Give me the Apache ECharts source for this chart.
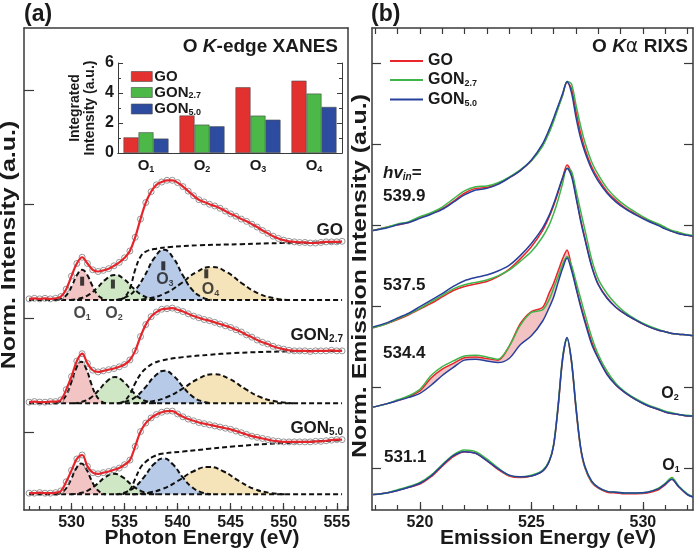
<!DOCTYPE html>
<html>
<head>
<meta charset="utf-8">
<script src="https://cdn.jsdelivr.net/npm/echarts@6/dist/echarts.min.js"></script>
<style>html,body{margin:0;padding:0;background:#fff;}</style>
</head>
<body>
<div id="main" style="width:697px;height:550px;"></div>
<script type="text/javascript">
var F = '"Liberation Sans", Arial, sans-serif';
var INK = '#1a1a1a';
var AX = '#3a3a3a';

// ---------- (a) O K-edge XANES ----------
var xanesE = [526, 526.5, 527, 527.5, 528, 528.5, 529, 529.5, 530, 530.5, 531, 531.5, 532, 532.5, 533, 533.5, 534, 534.5, 535, 535.5,
  536, 536.5, 537, 537.5, 538, 538.5, 539, 539.5, 540, 540.5, 541, 541.5, 542, 542.5, 543, 543.5, 544, 544.5, 545, 545.5,
  546, 546.5, 547, 547.5, 548, 548.5, 549, 549.5, 550, 550.5, 551, 551.5, 552, 552.5, 553, 553.5, 554, 554.5, 555, 555.5];
var xanesGO = [0.02, 0.03, 0.02, 0.03, 0.02, 0.03, 0.06, 0.19, 0.42, 0.64, 0.75, 0.64, 0.53, 0.50, 0.52, 0.55, 0.60, 0.66, 0.74, 0.86,
  1.10, 1.42, 1.71, 1.90, 2.02, 2.07, 2.10, 2.10, 2.06, 1.99, 1.91, 1.83, 1.76, 1.72, 1.68, 1.65, 1.61, 1.56, 1.51, 1.47,
  1.42, 1.38, 1.33, 1.28, 1.22, 1.17, 1.12, 1.08, 1.05, 1.03, 1.02, 1.01, 1.01, 1.00, 1.00, 1.01, 1.02, 1.02, 1.02, 1.03];
var xanesGON27 = [0.02, 0.03, 0.02, 0.02, 0.03, 0.03, 0.06, 0.24, 0.47, 0.74, 0.87, 0.70, 0.58, 0.55, 0.57, 0.59, 0.61, 0.64, 0.68, 0.76,
  0.92, 1.17, 1.38, 1.52, 1.60, 1.65, 1.66, 1.67, 1.64, 1.61, 1.57, 1.53, 1.50, 1.47, 1.45, 1.42, 1.39, 1.36, 1.33, 1.29,
  1.25, 1.20, 1.16, 1.11, 1.07, 1.04, 1.00, 0.97, 0.95, 0.93, 0.92, 0.92, 0.92, 0.91, 0.92, 0.92, 0.92, 0.93, 0.92, 0.92];
var xanesGON50 = [0.02, 0.02, 0.03, 0.02, 0.02, 0.03, 0.06, 0.22, 0.42, 0.62, 0.69, 0.49, 0.38, 0.36, 0.38, 0.40, 0.43, 0.46, 0.52, 0.60,
  0.84, 1.10, 1.25, 1.34, 1.40, 1.44, 1.46, 1.46, 1.41, 1.36, 1.32, 1.29, 1.26, 1.24, 1.22, 1.20, 1.18, 1.16, 1.14, 1.11,
  1.08, 1.05, 1.02, 1.00, 0.98, 0.96, 0.94, 0.93, 0.92, 0.92, 0.92, 0.92, 0.92, 0.92, 0.93, 0.93, 0.94, 0.95, 0.96, 0.96];
// vertical offsets of the stacked spectra
var xanesOffsets = [3.684, 1.872, 0.275];

// edge-step (dashed) curves
var stepGO = [[534.5, 0], [535, 0.05], [535.5, 0.2], [536, 0.53], [536.5, 0.76], [537, 0.85], [538, 0.9], [539.3, 0.93], [542, 0.96], [546, 0.98], [550, 1.0], [555.5, 1.01]];
var stepGON27 = [[534.5, 0], [535, 0.04], [535.5, 0.16], [536, 0.35], [536.5, 0.51], [537, 0.61], [537.7, 0.70], [538.5, 0.75], [540.5, 0.81], [543, 0.85], [545.2, 0.88], [550, 0.91], [555.5, 0.92]];
var stepGON50 = [[534.8, 0], [535.5, 0.08], [536, 0.27], [536.5, 0.47], [537, 0.57], [537.7, 0.66], [538.5, 0.71], [540.5, 0.75], [543, 0.8], [545.2, 0.84], [550, 0.9], [555.5, 0.95]];

// fitted peaks O1..O4 (energy, height above baseline)
var gaussGO = [
  [[528.66, 0], [529.13, 0.03], [529.6, 0.105], [530.06, 0.258], [530.53, 0.443], [531.0, 0.53], [531.47, 0.443], [531.94, 0.258], [532.4, 0.105], [532.87, 0.03], [533.34, 0]],
  [[529.9, 0], [530.74, 0.025], [531.58, 0.087], [532.42, 0.214], [533.26, 0.367], [534.1, 0.44], [534.94, 0.367], [535.78, 0.214], [536.62, 0.087], [537.46, 0.025], [538.3, 0]],
  [[534.2, 0], [535.1, 0.049], [536.0, 0.174], [536.9, 0.429], [537.8, 0.735], [538.7, 0.88], [539.6, 0.735], [540.5, 0.429], [541.4, 0.174], [542.3, 0.049], [543.2, 0]],
  [[535.85, 0], [537.32, 0.032], [538.79, 0.115], [540.26, 0.282], [541.73, 0.484], [543.2, 0.58], [544.67, 0.484], [546.14, 0.282], [547.61, 0.115], [549.08, 0.032], [550.55, 0]]
];
var gaussGON27 = [
  [[528.56, 0], [529.03, 0.041], [529.5, 0.145], [529.96, 0.356], [530.43, 0.61], [530.9, 0.73], [531.37, 0.61], [531.84, 0.356], [532.3, 0.145], [532.77, 0.041], [533.24, 0]],
  [[530.2, 0], [530.98, 0.026], [531.76, 0.091], [532.54, 0.224], [533.32, 0.384], [534.1, 0.46], [534.88, 0.384], [535.66, 0.224], [536.44, 0.091], [537.22, 0.026], [538.0, 0]],
  [[534.25, 0], [535.15, 0.032], [536.05, 0.113], [536.95, 0.278], [537.85, 0.476], [538.75, 0.57], [539.65, 0.476], [540.55, 0.278], [541.45, 0.113], [542.35, 0.032], [543.25, 0]],
  [[535.9, 0], [537.4, 0.029], [538.9, 0.101], [540.4, 0.248], [541.9, 0.426], [543.4, 0.51], [544.9, 0.426], [546.4, 0.248], [547.9, 0.101], [549.4, 0.029], [550.9, 0]]
];
var gaussGON50 = [
  [[528.56, 0], [529.03, 0.03], [529.5, 0.107], [529.96, 0.263], [530.43, 0.451], [530.9, 0.54], [531.37, 0.451], [531.84, 0.263], [532.3, 0.107], [532.77, 0.03], [533.24, 0]],
  [[529.95, 0], [530.76, 0.02], [531.57, 0.071], [532.38, 0.175], [533.19, 0.301], [534.0, 0.36], [534.81, 0.301], [535.62, 0.175], [536.43, 0.071], [537.24, 0.02], [538.05, 0]],
  [[534.15, 0], [535.05, 0.035], [535.95, 0.125], [536.85, 0.307], [537.75, 0.526], [538.65, 0.63], [539.55, 0.526], [540.45, 0.307], [541.35, 0.125], [542.25, 0.035], [543.15, 0]],
  [[535.7, 0], [537.14, 0.027], [538.58, 0.095], [540.02, 0.234], [541.46, 0.401], [542.9, 0.48], [544.34, 0.401], [545.78, 0.234], [547.22, 0.095], [548.66, 0.027], [550.1, 0]]
];
var peakNames = ['O1', 'O2', 'O3', 'O4'];
var peakMarks = [[531.0, 0.33], [533.9, 0.28], [538.65, 0.60], [542.7, 0.46]];
var peakLabelPos = [[531.0, -0.23], [534.0, -0.23], [538.8, 0.36], [543.1, 0.19]];

var xanesMajor = [530, 535, 540, 545, 550, 555];
var xanesMinor = [526, 527, 528, 529, 530, 531, 532, 533, 534, 535, 536, 537, 538, 539, 540, 541, 542, 543, 544, 545,
  546, 547, 548, 549, 550, 551, 552, 553, 554, 555, 556];
var xanesYTicks = [1.37, 3.37, 5.37, 7.37];

// inset: integrated intensity
var barCats = ['O1', 'O2', 'O3', 'O4'];
var barGO = [1.04, 2.50, 4.38, 4.82];
var barGON27 = [1.38, 1.89, 2.49, 3.96];
var barGON50 = [0.96, 1.78, 2.22, 3.07];

// ---------- (b) O K-alpha RIXS ----------
var rixsE = [517.9, 518.5, 519, 519.5, 520, 520.5, 521, 521.5, 522, 522.5, 523, 523.5, 524, 524.5, 525, 525.5, 525.8, 526.0, 526.2, 526.4,
  526.6, 526.8, 527.0, 527.2, 527.4, 527.7, 528.0, 528.4, 528.8, 529.2, 529.7, 530.2, 530.7, 531.0, 531.3, 531.6, 532.0, 532.25];
var rixs539GO = [3.45, 3.49, 3.52, 3.55, 3.61, 3.66, 3.72, 3.81, 3.91, 3.97, 3.98, 4.03, 4.10, 4.19, 4.31, 4.50, 4.68, 4.82, 4.97, 5.12,
  5.28, 5.20, 4.92, 4.66, 4.46, 4.24, 4.09, 3.93, 3.82, 3.73, 3.65, 3.58, 3.52, 3.48, 3.44, 3.42, 3.39, 3.38];
var rixs539GON27 = [3.45, 3.49, 3.53, 3.56, 3.62, 3.67, 3.74, 3.84, 3.94, 3.99, 4.00, 4.04, 4.11, 4.20, 4.31, 4.49, 4.66, 4.80, 4.96, 5.12,
  5.29, 5.26, 5.00, 4.75, 4.54, 4.30, 4.14, 3.97, 3.85, 3.76, 3.67, 3.59, 3.53, 3.49, 3.45, 3.43, 3.40, 3.39];
var rixs539GON50 = [3.45, 3.48, 3.52, 3.55, 3.60, 3.65, 3.71, 3.80, 3.89, 3.95, 3.97, 4.02, 4.10, 4.19, 4.32, 4.52, 4.70, 4.84, 4.99, 5.14,
  5.29, 5.15, 4.85, 4.60, 4.42, 4.21, 4.06, 3.91, 3.80, 3.72, 3.64, 3.57, 3.51, 3.47, 3.44, 3.41, 3.39, 3.38];
var rixs537GO = [2.25, 2.30, 2.35, 2.41, 2.48, 2.55, 2.63, 2.71, 2.76, 2.79, 2.82, 2.88, 2.97, 3.10, 3.25, 3.45, 3.62, 3.76, 3.92, 4.10,
  4.26, 4.15, 3.88, 3.60, 3.36, 3.02, 2.79, 2.62, 2.50, 2.42, 2.34, 2.27, 2.22, 2.20, 2.18, 2.17, 2.16, 2.15];
var rixs537GON27 = [2.25, 2.30, 2.36, 2.42, 2.49, 2.57, 2.65, 2.73, 2.78, 2.81, 2.84, 2.89, 2.96, 3.07, 3.19, 3.37, 3.52, 3.66, 3.83, 4.03,
  4.22, 4.18, 3.95, 3.70, 3.46, 3.10, 2.85, 2.67, 2.54, 2.44, 2.35, 2.28, 2.23, 2.20, 2.18, 2.17, 2.16, 2.15];
var rixs537GON50 = [2.26, 2.31, 2.37, 2.43, 2.51, 2.59, 2.67, 2.76, 2.83, 2.87, 2.90, 2.95, 3.02, 3.14, 3.29, 3.48, 3.64, 3.78, 3.94, 4.10,
  4.22, 4.12, 3.86, 3.58, 3.34, 3.01, 2.78, 2.61, 2.50, 2.42, 2.34, 2.27, 2.22, 2.20, 2.18, 2.17, 2.16, 2.15];
var rixs534GO = [1.27, 1.31, 1.35, 1.40, 1.47, 1.63, 1.74, 1.81, 1.88, 1.89, 1.87, 1.85, 2.02, 2.30, 2.45, 2.50, 2.68, 2.80, 2.95, 3.10,
  3.21, 3.00, 2.76, 2.54, 2.35, 2.08, 1.88, 1.68, 1.54, 1.45, 1.36, 1.29, 1.24, 1.21, 1.19, 1.18, 1.16, 1.16];
var rixs534GON27 = [1.27, 1.31, 1.36, 1.41, 1.49, 1.66, 1.77, 1.84, 1.90, 1.91, 1.89, 1.86, 2.02, 2.28, 2.44, 2.47, 2.60, 2.74, 2.88, 3.03,
  3.13, 3.02, 2.82, 2.62, 2.42, 2.14, 1.92, 1.71, 1.56, 1.46, 1.37, 1.30, 1.25, 1.22, 1.20, 1.18, 1.17, 1.16];
var rixs534GON50 = [1.27, 1.31, 1.35, 1.39, 1.44, 1.54, 1.66, 1.76, 1.85, 1.86, 1.84, 1.82, 1.87, 2.04, 2.15, 2.33, 2.50, 2.63, 2.81, 2.98,
  3.11, 2.96, 2.74, 2.52, 2.32, 2.05, 1.87, 1.67, 1.54, 1.45, 1.36, 1.29, 1.24, 1.21, 1.19, 1.18, 1.16, 1.16];
var rixs531GO = [0.19, 0.21, 0.24, 0.28, 0.32, 0.41, 0.54, 0.66, 0.72, 0.70, 0.61, 0.50, 0.42, 0.40, 0.42, 0.48, 0.60, 0.80, 1.27, 1.85,
  2.12, 1.82, 1.25, 0.77, 0.52, 0.34, 0.27, 0.22, 0.21, 0.20, 0.20, 0.21, 0.25, 0.31, 0.38, 0.29, 0.19, 0.16];
var rixs531GON27 = [0.19, 0.21, 0.25, 0.29, 0.34, 0.43, 0.56, 0.68, 0.74, 0.72, 0.63, 0.52, 0.43, 0.41, 0.43, 0.49, 0.61, 0.82, 1.30, 1.88,
  2.12, 1.84, 1.28, 0.79, 0.53, 0.35, 0.28, 0.23, 0.22, 0.21, 0.21, 0.22, 0.27, 0.33, 0.40, 0.30, 0.20, 0.16];
var rixs531GON50 = [0.19, 0.21, 0.24, 0.28, 0.33, 0.42, 0.55, 0.67, 0.72, 0.70, 0.61, 0.51, 0.43, 0.41, 0.42, 0.48, 0.60, 0.80, 1.28, 1.87,
  2.13, 1.84, 1.27, 0.79, 0.54, 0.36, 0.28, 0.23, 0.22, 0.21, 0.21, 0.22, 0.26, 0.32, 0.38, 0.29, 0.19, 0.16];
var rixsMajor = [520, 525, 530];
var rixsMinor = [518, 519, 520, 521, 522, 523, 524, 525, 526, 527, 528, 529, 530, 531, 532];
var rixsYTicks = [0.52, 1.52, 2.52, 3.52, 4.52, 5.52];
// range of the shaded GO/GON5.0 difference at 534.4 eV (indices into rixsE)
var shadeFrom = 4, shadeTo = 21;

var sampleNames = ['GO', 'GON2.7', 'GON5.0'];
var lineColors = ['#e8262b', '#3fb54a', '#27409b'];
var barColors = ['#e3312f', '#4cb848', '#2d4c9f'];
var gaussColors = ['#f2c4c4', '#cfe7c5', '#b7cae8', '#f5e3b9'];

var chart = echarts.init(document.getElementById('main'));

function shift(pts, off) {
  return pts.map(function (p) { return [p[0], p[1] + off]; });
}
function subLabel(name) {
  if (name.indexOf('GON') === 0) return '{m|GON}{s|' + name.slice(3) + '}';
  return '{m|' + name + '}';
}

var series = [];

// inset bars first
[barGO, barGON27, barGON50].forEach(function (vals, k) {
  series.push({
    name: sampleNames[k], type: 'bar', xAxisIndex: 3, yAxisIndex: 1,
    data: vals, barWidth: 15, barGap: '0%',
    itemStyle: { color: barColors[k], borderColor: '#4a4a4a', borderWidth: 0.6 }
  });
});

// XANES spectra
var xanes = [xanesGO, xanesGON27, xanesGON50];
var steps = [stepGO, stepGON27, stepGON50];
var gauss = [gaussGO, gaussGON27, gaussGON50];
var dash = { color: '#111', width: 2, type: [5, 3] };
xanes.forEach(function (vals, k) {
  var off = xanesOffsets[k];
  var pts = xanesE.map(function (e, i) { return [e, vals[i] + off]; });
  for (var g = 3; g >= 0; g--) {
    series.push({
      type: 'line', xAxisIndex: 0, yAxisIndex: 0, silent: true, z: 2,
      data: shift(gauss[k][g], off), smooth: 0.5, symbol: 'none',
      lineStyle: { opacity: 0 },
      areaStyle: { color: gaussColors[g], opacity: 1, origin: off }
    });
  }
  for (g = 0; g < 4; g++) {
    series.push({
      type: 'line', xAxisIndex: 0, yAxisIndex: 0, silent: true, z: 3,
      data: shift(gauss[k][g], off), smooth: 0.5, symbol: 'none', lineStyle: dash
    });
  }
  series.push({
    type: 'line', xAxisIndex: 0, yAxisIndex: 0, silent: true, z: 3,
    data: [[xanesE[0], off], [xanesE[xanesE.length - 1], off]], symbol: 'none', lineStyle: dash
  });
  series.push({
    type: 'line', xAxisIndex: 0, yAxisIndex: 0, silent: true, z: 3,
    data: shift(steps[k], off), smooth: 0.4, symbol: 'none', lineStyle: dash
  });
  series.push({
    type: 'scatter', xAxisIndex: 0, yAxisIndex: 0, silent: true, z: 4,
    data: pts, symbolSize: 6,
    itemStyle: { color: 'rgba(255,255,255,0)', borderColor: '#7c7c7c', borderWidth: 1 }
  });
  series.push({
    type: 'line', xAxisIndex: 0, yAxisIndex: 0, silent: true, z: 5,
    data: pts, smooth: 0.4, symbol: 'none', lineStyle: { color: '#e4252b', width: 2.2 }
  });
});

// peak markers and labels on the GO spectrum
series.push({
  type: 'scatter', xAxisIndex: 0, yAxisIndex: 0, silent: true, z: 6,
  data: shift(peakMarks, xanesOffsets[0]), symbol: 'rect', symbolSize: [4, 9],
  itemStyle: { color: '#111' }
});
series.push({
  type: 'scatter', xAxisIndex: 0, yAxisIndex: 0, silent: true, z: 6, symbolSize: 0,
  data: peakLabelPos.map(function (p, i) { return { name: peakNames[i], value: [p[0], p[1] + xanesOffsets[0]] }; }),
  label: {
    show: true, position: 'inside',
    formatter: function (p) { return '{o|O}{s|' + p.name.slice(1) + '}'; },
    rich: {
      o: { fontFamily: F, fontWeight: 'bold', fontSize: 16, color: INK, lineHeight: 18 },
      s: { fontFamily: F, fontWeight: 'bold', fontSize: 9, color: INK, lineHeight: 6, verticalAlign: 'bottom' }
    }
  }
});

// RIXS spectra
var rixs = [
  [rixs539GO, rixs539GON27, rixs539GON50],
  [rixs537GO, rixs537GON27, rixs537GON50],
  [rixs534GO, rixs534GON27, rixs534GON50],
  [rixs531GO, rixs531GON27, rixs531GON50]
];
function rixsPts(vals, a, b) {
  var out = [];
  for (var i = a; i <= b; i++) out.push([rixsE[i], vals[i]]);
  return out;
}
// shaded difference: pink under GO, then white under GON5.0 (slightly wider to hide seams)
series.push({
  type: 'line', xAxisIndex: 5, yAxisIndex: 3, silent: true, z: 1,
  data: rixsPts(rixs534GO, shadeFrom, shadeTo), smooth: 0.3, symbol: 'none',
  lineStyle: { opacity: 0 }, areaStyle: { color: '#f3c2c2', opacity: 1, origin: 1.0 }
});
series.push({
  type: 'line', xAxisIndex: 5, yAxisIndex: 3, silent: true, z: 2,
  data: rixsPts(rixs534GON50, shadeFrom - 1, shadeTo + 1), smooth: 0.3, symbol: 'none',
  lineStyle: { opacity: 0 }, areaStyle: { color: '#ffffff', opacity: 1, origin: 0.98 }
});
rixs.forEach(function (trio) {
  trio.forEach(function (vals, s) {
    series.push({
      name: sampleNames[s], type: 'line', xAxisIndex: 5, yAxisIndex: 3, z: 4,
      data: rixsPts(vals, 0, rixsE.length - 1), smooth: 0.3, symbol: 'none',
      lineStyle: { color: lineColors[s], width: 1.5 }, itemStyle: { color: lineColors[s] }
    });
  });
});

var axisLineStyle = { color: AX, width: 1.5 };
var tickStyle = { color: AX, width: 1.2 };
var labelStyle = { fontFamily: F, fontWeight: 'bold', fontSize: 16, color: INK };
var noAxis = { axisLabel: { show: false }, axisTick: { show: false }, splitLine: { show: false } };

var richSub = function (size, sub) {
  return {
    m: { fontFamily: F, fontWeight: 'bold', fontSize: size, color: INK, lineHeight: size + 1 },
    s: { fontFamily: F, fontWeight: 'bold', fontSize: sub, color: INK, lineHeight: 6, verticalAlign: 'bottom' }
  };
};
var gRich = function (size, sub) {
  return {
    m: { fontFamily: F, fontWeight: 'bold', fontSize: size, fill: INK, lineHeight: size + 1 },
    s: { fontFamily: F, fontWeight: 'bold', fontSize: sub, fill: INK, lineHeight: 6, verticalAlign: 'bottom' },
    i: { fontFamily: F, fontWeight: 'bold', fontStyle: 'italic', fontSize: size, fill: INK, lineHeight: size + 1 },
    si: { fontFamily: F, fontWeight: 'bold', fontStyle: 'italic', fontSize: sub, fill: INK, lineHeight: 6, verticalAlign: 'bottom' },
    g: { fontFamily: 'DejaVu Sans, sans-serif', fontSize: size, fill: INK, lineHeight: size + 1 }
  };
};

var option = {
  animation: false,
  backgroundColor: '#ffffff',
  grid: [
    { left: 24, top: 28, width: 324, height: 482, outerBoundsMode: 'none' },
    { left: 118, top: 63, width: 224, height: 90, outerBoundsMode: 'none' },
    { left: 372, top: 28, width: 321, height: 482, outerBoundsMode: 'none' }
  ],
  legend: [
    {
      left: 126, top: 64, orient: 'vertical', itemWidth: 21, itemHeight: 10, itemGap: 1, itemStyle: { borderColor: '#4a4a4a', borderWidth: 0.6 },
      data: [0, 1, 2].map(function (k) { return { name: sampleNames[k], icon: 'rect', itemStyle: { color: barColors[k] } }; }),
      formatter: subLabel, textStyle: { padding: [0, 0, 0, -3], rich: richSub(15, 9) }
    },
    {
      left: 385, top: 48, orient: 'vertical', itemWidth: 33, itemHeight: 2, itemGap: 3,
      data: [0, 1, 2].map(function (k) { return { name: sampleNames[k], icon: 'rect', itemStyle: { color: lineColors[k], borderWidth: 0 } }; }),
      formatter: subLabel, textStyle: { rich: richSub(16, 9) }
    }
  ],
  xAxis: [
    {
      gridIndex: 0, type: 'value', min: 525.52, max: 556.06, position: 'bottom',
      axisLine: { lineStyle: axisLineStyle },
      axisTick: { inside: true, length: 7, customValues: xanesMajor, lineStyle: tickStyle },
      axisLabel: Object.assign({ customValues: xanesMajor, margin: 5 }, labelStyle),
      splitLine: { show: false }
    },
    {
      gridIndex: 0, type: 'value', min: 525.52, max: 556.06, position: 'bottom',
      axisLine: { show: false }, axisLabel: { show: false }, splitLine: { show: false },
      axisTick: { inside: true, length: 4, customValues: xanesMinor, lineStyle: tickStyle }
    },
    Object.assign({ gridIndex: 0, type: 'value', min: 525.52, max: 556.06, position: 'top', axisLine: { lineStyle: axisLineStyle } }, noAxis),
    {
      gridIndex: 1, type: 'category', data: barCats, position: 'bottom',
      axisLine: { lineStyle: { color: AX, width: 1 } },
      axisTick: { inside: true, length: 4, lineStyle: { color: AX } },
      axisLabel: {
        margin: 5, interval: 0,
        formatter: function (v) { return '{m|O}{s|' + v.slice(1) + '}'; },
        rich: richSub(15, 9)
      }
    },
    Object.assign({ gridIndex: 1, type: 'category', data: barCats, position: 'top', axisLine: { lineStyle: { color: AX, width: 1 } } }, noAxis),
    {
      gridIndex: 2, type: 'value', min: 517.85, max: 532.25, position: 'bottom',
      axisLine: { lineStyle: axisLineStyle },
      axisTick: { inside: true, length: 8, customValues: rixsMajor, lineStyle: tickStyle },
      axisLabel: Object.assign({ customValues: rixsMajor, margin: 5 }, labelStyle),
      splitLine: { show: false }
    },
    {
      gridIndex: 2, type: 'value', min: 517.85, max: 532.25, position: 'bottom',
      axisLine: { show: false }, axisLabel: { show: false }, splitLine: { show: false },
      axisTick: { inside: true, length: 5, customValues: rixsMinor, lineStyle: tickStyle }
    },
    {
      gridIndex: 2, type: 'value', min: 517.85, max: 532.25, position: 'top',
      axisLine: { lineStyle: axisLineStyle }, axisLabel: { show: false }, splitLine: { show: false },
      axisTick: { inside: true, length: 6, customValues: rixsMinor, lineStyle: tickStyle }
    }
  ],
  yAxis: [
    {
      gridIndex: 0, type: 'value', min: 0, max: 8.456, position: 'left',
      axisLine: { show: true, lineStyle: axisLineStyle },
      axisTick: { show: true, inside: true, length: 10, customValues: xanesYTicks, lineStyle: tickStyle },
      axisLabel: { show: false }, splitLine: { show: false }
    },
    {
      gridIndex: 1, type: 'value', min: 0, max: 6, interval: 2, position: 'left',
      axisLine: { show: true, lineStyle: { color: AX, width: 1 } },
      axisTick: { show: true, inside: true, length: 5, lineStyle: { color: AX } },
      minorTick: { show: true, splitNumber: 2, length: 3, lineStyle: { color: AX } },
      axisLabel: Object.assign({ margin: 4 }, labelStyle), splitLine: { show: false }
    },
    {
      gridIndex: 1, type: 'value', min: 0, max: 6, interval: 2, position: 'right',
      axisLine: { show: true, lineStyle: { color: AX, width: 1 } },
      axisTick: { show: true, inside: true, length: 5, lineStyle: { color: AX } },
      minorTick: { show: true, splitNumber: 2, length: 3, lineStyle: { color: AX } },
      axisLabel: { show: false }, splitLine: { show: false }
    },
    {
      gridIndex: 2, type: 'value', min: 0, max: 5.95, position: 'left',
      axisLine: { show: true, lineStyle: axisLineStyle },
      axisTick: { show: true, inside: true, length: 9, customValues: rixsYTicks, lineStyle: tickStyle },
      axisLabel: { show: false }, splitLine: { show: false }
    },
    {
      gridIndex: 2, type: 'value', min: 0, max: 5.95, position: 'right',
      axisLine: { show: true, lineStyle: axisLineStyle },
      axisTick: { show: true, inside: true, length: 9, customValues: rixsYTicks, lineStyle: tickStyle },
      axisLabel: { show: false }, splitLine: { show: false }
    },
    Object.assign({ gridIndex: 0, type: 'value', min: 0, max: 8.456, position: 'right', axisLine: { show: true, lineStyle: axisLineStyle } }, noAxis)
  ],
  graphic: [
    { type: 'text', x: 24, y: 3, style: { text: '(a)', font: 'bold 23px ' + F, fill: INK } },
    { type: 'text', x: 371, y: 3, style: { text: '(b)', font: 'bold 23px ' + F, fill: INK } },
    { type: 'text', x: 338, y: 47, style: { text: '{m|O }{i|K}{m|-edge XANES}', rich: gRich(19, 10), align: 'right', verticalAlign: 'middle' } },
    { type: 'text', x: 688, y: 47, style: { text: '{m|O }{i|K}{g|\u03b1}{m| RIXS}', rich: gRich(19, 10), align: 'right', verticalAlign: 'middle' } },
    { type: 'text', x: 202, y: 538, style: { text: 'Photon Energy (eV)', font: 'bold 21px ' + F, fill: INK, align: 'center', verticalAlign: 'middle' } },
    { type: 'text', x: 548, y: 538, style: { text: 'Emission Energy (eV)', font: 'bold 21px ' + F, fill: INK, align: 'center', verticalAlign: 'middle' } },
    { type: 'text', x: 9, y: 245, rotation: Math.PI / 2, scaleX: 1.25, style: { text: 'Norm. Intensity (a.u.)', font: 'bold 20px ' + F, fill: INK, align: 'center', verticalAlign: 'middle' } },
    { type: 'text', x: 360, y: 276, rotation: Math.PI / 2, scaleX: 1.24, style: { text: 'Norm. Emission Intensity (a.u.)', font: 'bold 20px ' + F, fill: INK, align: 'center', verticalAlign: 'middle' } },
    { type: 'text', x: 83, y: 108, rotation: Math.PI / 2, style: { text: 'Integrated\nIntensity (a.u.)', font: 'bold 14px ' + F, lineHeight: 15, fill: INK, align: 'center', verticalAlign: 'middle' } },
    { type: 'text', x: 343, y: 230, style: { text: '{m|GO}', rich: gRich(17, 10), align: 'right', verticalAlign: 'middle' } },
    { type: 'text', x: 343, y: 335, style: { text: '{m|GON}{s|2.7}', rich: gRich(17, 10), align: 'right', verticalAlign: 'middle' } },
    { type: 'text', x: 343, y: 428, style: { text: '{m|GON}{s|5.0}', rich: gRich(17, 10), align: 'right', verticalAlign: 'middle' } },
    { type: 'text', x: 383, y: 173, style: { text: '{i|hv}{si|in}{m|=}', rich: gRich(17, 10), verticalAlign: 'middle' } },
    { type: 'text', x: 383, y: 196, style: { text: '539.9', font: 'bold 17px ' + F, fill: INK, verticalAlign: 'middle' } },
    { type: 'text', x: 383, y: 285, style: { text: '537.5', font: 'bold 17px ' + F, fill: INK, verticalAlign: 'middle' } },
    { type: 'text', x: 383, y: 353, style: { text: '534.4', font: 'bold 17px ' + F, fill: INK, verticalAlign: 'middle' } },
    { type: 'text', x: 384, y: 457, style: { text: '531.1', font: 'bold 17px ' + F, fill: INK, verticalAlign: 'middle' } },
    { type: 'text', x: 670, y: 394, style: { text: '{m|O}{s|2}', rich: gRich(16, 9), align: 'center', verticalAlign: 'middle' } },
    { type: 'text', x: 671, y: 466, style: { text: '{m|O}{s|1}', rich: gRich(16, 9), align: 'center', verticalAlign: 'middle' } }
  ],
  series: series
};

chart.setOption(option);
</script>
</body>
</html>
